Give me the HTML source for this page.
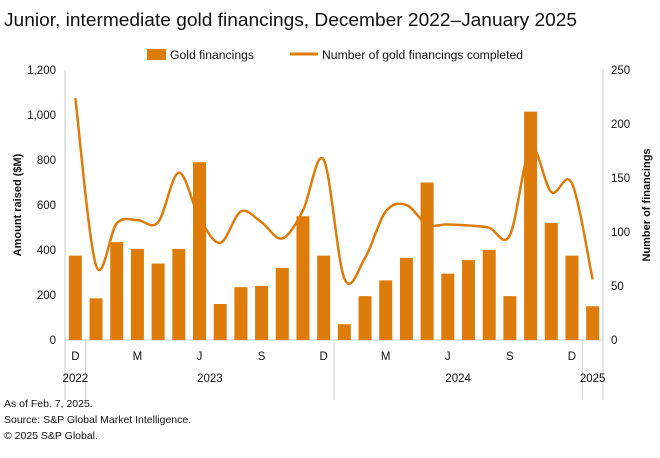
<!DOCTYPE html>
<html><head><meta charset="utf-8"><style>
body{margin:0;background:#fff;font-family:"Liberation Sans",sans-serif;}
svg text{font-family:"Liberation Sans",sans-serif;fill:#111;}
</style></head><body>
<svg width="660" height="453">
<text x="4" y="26" font-size="18" textLength="573" lengthAdjust="spacingAndGlyphs">Junior, intermediate gold financings, December 2022–January 2025</text>
<g>
<rect x="147" y="49" width="19" height="11" fill="#de7c0b"/>
<text x="170" y="59" font-size="11.5" textLength="84" lengthAdjust="spacingAndGlyphs">Gold financings</text>
<line x1="290" y1="54" x2="318" y2="54" stroke="#de7c0b" stroke-width="3"/>
<text x="322" y="59" font-size="11.5" textLength="201" lengthAdjust="spacingAndGlyphs">Number of gold financings completed</text>
</g>
<g id="axes"></g>
<g id="bars"></g>
<path id="line" fill="none" stroke="#de7c0b" stroke-width="2.5"/>
<text transform="translate(21,205) rotate(-90)" text-anchor="middle" font-size="11" font-weight="bold">Amount raised ($M)</text>
<text transform="translate(650,205) rotate(-90)" text-anchor="middle" font-size="11" font-weight="bold">Number of financings</text>
<text x="4" y="407" font-size="10.5">As of Feb. 7, 2025.</text>
<text x="4" y="423" font-size="10.5">Source: S&amp;P Global Market Intelligence.</text>
<text x="4" y="439" font-size="10.5">© 2025 S&amp;P Global.</text>
</svg>
<script>
const amounts=[375,185,435,405,340,405,790,160,235,240,320,550,375,70,195,265,365,700,295,355,400,195,1015,520,375,150];
const counts=[224,69,108,111,109,155,113,90,119,109,94,120,167,57,76,119,125,107,107,106,104,97,178,137,145,56];
const leftTicks=[0,200,400,600,800,1000,1200];
const rightTicks=[0,50,100,150,200,250];
const monthLabels=[[0,'D'],[3,'M'],[6,'J'],[9,'S'],[12,'D'],[15,'M'],[18,'J'],[21,'S'],[24,'D']];
const yearLabels=[[0,0,'2022'],[1,12,'2023'],[13,24,'2024'],[25,25,'2025']];
const NS='http://www.w3.org/2000/svg';
const X0=65,X1=603,Y0=340,Y1=70,n=amounts.length,slot=(X1-X0)/n;
const xc=i=>X0+slot*(i+0.5);
const yL=v=>Y0-(v/1200)*(Y0-Y1);
const yR=v=>Y0-(v/250)*(Y0-Y1);
function mk(t,a,p){const e=document.createElementNS(NS,t);for(const k in a)e.setAttribute(k,a[k]);p.appendChild(e);return e;}
const ax=document.getElementById('axes');
const bl=mk('line',{x1:X0,y1:Y0,x2:X1,y2:Y0,stroke:'#ccc'},ax);

[X0,X1].forEach((x,k)=>{const l=mk('line',{x1:x,y1:Y1,x2:x,y2:400,stroke:'#ccc'},ax);
});
[1,13,25].forEach(i=>{const x=X0+slot*i;const l=mk('line',{x1:x,y1:Y0,x2:x,y2:400,stroke:'#ccc'},ax);
});
leftTicks.forEach(v=>{const t=mk('text',{x:56,y:yL(v)+4,'text-anchor':'end','font-size':11.5},ax);t.textContent=v.toLocaleString('en-US');
});
rightTicks.forEach(v=>{const t=mk('text',{x:611,y:yR(v)+4,'font-size':11.5},ax);t.textContent=v;
});
monthLabels.forEach(([i,s])=>{const t=mk('text',{x:xc(i),y:360,'text-anchor':'middle','font-size':11.5},ax);t.textContent=s;
});
yearLabels.forEach(([a,b,s])=>{const t=mk('text',{x:(xc(a)+xc(b))/2,y:382,'text-anchor':'middle','font-size':11.5},ax);t.textContent=s;
});
const bg=document.getElementById('bars');
amounts.forEach((v,i)=>{const r=mk('rect',{x:xc(i)-6.5,y:yL(v),width:13,height:Y0-yL(v),fill:'#de7c0b'},bg);
});
const pts=counts.map((v,i)=>[xc(i),yR(v)]);
let d='M'+pts[0][0]+','+pts[0][1];
for(let i=0;i<pts.length-1;i++){const p0=pts[Math.max(0,i-1)],p1=pts[i],p2=pts[i+1],p3=pts[Math.min(pts.length-1,i+2)];
const c1=[p1[0]+(p2[0]-p0[0])/6,p1[1]+(p2[1]-p0[1])/6],c2=[p2[0]-(p3[0]-p1[0])/6,p2[1]-(p3[1]-p1[1])/6];
d+=` C${c1[0]},${c1[1]} ${c2[0]},${c2[1]} ${p2[0]},${p2[1]}`;}
document.getElementById('line').setAttribute('d',d);
</script>
</body></html>
